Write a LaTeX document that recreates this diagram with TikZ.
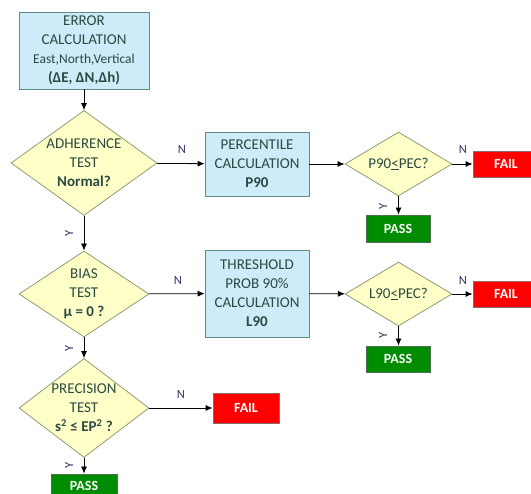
\documentclass[tikz,border=0pt]{standalone}
\usepackage{fontspec}
\setmainfont{Carlito}
\usetikzlibrary{shapes.geometric,arrows.meta}
\definecolor{txt}{HTML}{2A4A42}
\definecolor{boxf}{HTML}{CDEBF8}
\definecolor{boxb}{HTML}{5E8C80}
\definecolor{diaf}{HTML}{FFFFC8}
\definecolor{diab}{HTML}{8E9C74}
\definecolor{lab}{HTML}{333366}
\definecolor{failf}{HTML}{FF0000}
\definecolor{failb}{HTML}{8A6A6A}
\definecolor{passf}{HTML}{008C00}
\definecolor{passb}{HTML}{4F6F4F}
\newcommand{\mainfs}{\fontsize{15}{19}\selectfont}
\newcommand{\smallfs}{\fontsize{13.5}{19}\selectfont}
\newcommand{\labfs}{\fontsize{12.5}{14}\selectfont}
\newcommand{\resfs}{\fontsize{14}{16}\selectfont\bfseries}
\begin{document}
\begin{tikzpicture}[x=1pt,y=-1pt,
  box/.style={draw=boxb, fill=boxf, line width=0.8pt, inner sep=0pt, align=center, font=\mainfs, text=txt},
  dia/.style={diamond, draw=diab, fill=diaf, line width=0.8pt, inner sep=0pt},
  dtext/.style={align=center, font=\mainfs, text=txt, inner sep=0pt},
  failbox/.style={draw=failb, fill=failf, text=white, font=\resfs, line width=0.8pt, inner sep=0pt, minimum width=66pt},
  passbox/.style={draw=passb, fill=passf, text=white, font=\resfs, line width=0.8pt, inner sep=0pt},
  arr/.style={draw=black, line width=0.8pt, -{Latex[length=7pt,width=6pt]}},
  nlab/.style={font=\labfs, text=lab, inner sep=0pt},
  ylab/.style={font=\labfs, text=lab, inner sep=0pt, rotate=90}
]
\clip (0,0) rectangle (531,494);
\useasboundingbox (0,0) rectangle (531,494);

% left column
\node[box, minimum width=130pt, minimum height=77pt] (err) at (84,50.5)
  {ERROR\\CALCULATION\\{\smallfs East,North,Vertical}\\\textbf{(ΔE, ΔN,Δh)}};

\node[dia, minimum width=146pt, minimum height=105pt] (adh) at (84,163) {};
\node[dtext] (adht) at (adh.center) {ADHERENCE\\TEST\\\textbf{Normal?}};

\node[dia, minimum width=130pt, minimum height=86pt] (bias) at (84,294) {};
\node[dtext] (biast) at (bias.center) {BIAS\\TEST\\\textbf{μ = 0 ?}};

\node[dia, minimum width=130pt, minimum height=99pt] (prec) at (84,408) {};
\node[dtext] (prect) at (prec.center) {PRECISION\\TEST\\\textbf{s\textsuperscript{2} ≤ EP\textsuperscript{2} ?}};

\node[passbox, minimum width=66pt, minimum height=24pt] (pass3) at (84,486) {PASS};
\node[failbox, minimum height=30pt] (fail3) at (246,408) {FAIL};

% upper branch
\node[box, minimum width=104pt, minimum height=64pt] (perc) at (257,164)
  {PERCENTILE\\CALCULATION\\\textbf{P90}};
\node[dia, minimum width=107pt, minimum height=64pt] (p90) at (398.5,164) {};
\node[dtext] (p90t) at (p90.center) {P90\underline{<}PEC?};
\node[failbox, minimum height=26pt] (fail1) at (506,164) {FAIL};
\node[passbox, minimum width=64pt, minimum height=27pt] (pass1) at (398,228.5) {PASS};

% middle branch
\node[box, minimum width=104pt, minimum height=87pt] (thr) at (257,293.5)
  {THRESHOLD\\PROB 90\%\\CALCULATION\\\textbf{L90}};
\node[dia, minimum width=107pt, minimum height=64pt] (l90) at (398.5,294) {};
\node[dtext] (l90t) at (l90.center) {L90\underline{<}PEC?};
\node[failbox, minimum height=26pt] (fail2) at (506,294) {FAIL};
\node[passbox, minimum width=64pt, minimum height=26pt] (pass2) at (398,359) {PASS};

% connectors
\draw[arr] (err) -- (adh);
\draw[arr] (adh) -- (bias);
\draw[arr] (bias) -- (prec);
\draw[arr] (prec) -- (pass3);
\draw[arr] (prec) -- (fail3);
\draw[arr] (adh) -- (perc);
\draw[arr] (perc) -- (p90);
\draw[arr] (p90) -- (fail1);
\draw[arr] (p90.south) -- (p90.south |- pass1.north);
\draw[arr] (bias) -- (thr);
\draw[arr] (thr) -- (l90);
\draw[arr] (l90) -- (fail2);
\draw[arr] (l90.south) -- (l90.south |- pass2.north);

% labels
\node[nlab] (n1) at (182,149) {N};
\node[nlab] (n2) at (178,280) {N};
\node[nlab] (n3) at (181,394) {N};
\node[nlab] (n4) at (463,149) {N};
\node[nlab] (n5) at (463,280) {N};
\node[ylab] (y1) at (69,233) {Y};
\node[ylab] (y2) at (69,348) {Y};
\node[ylab] (y3) at (69,465) {Y};
\node[ylab] (y4) at (383,206) {Y};
\node[ylab] (y5) at (383,335) {Y};
\end{tikzpicture}
\end{document}
